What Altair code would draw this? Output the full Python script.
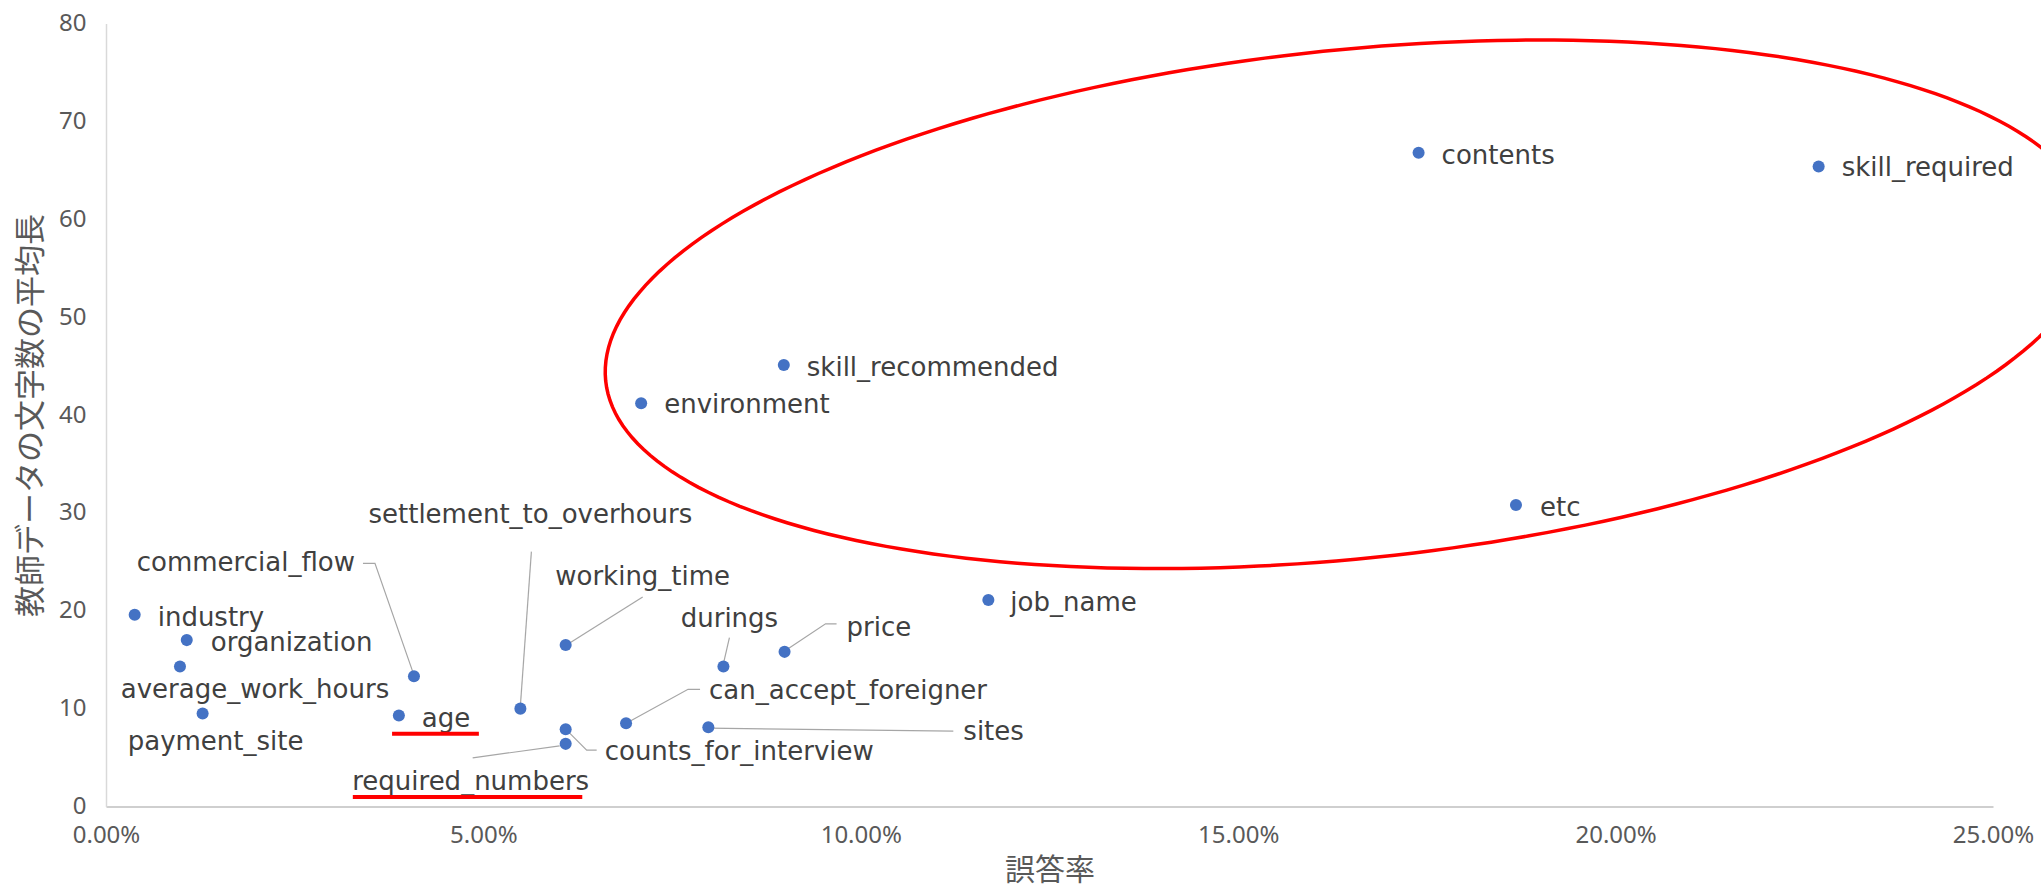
import math
import altair as alt
import pandas as pd

# ---------------- data ----------------
names = ["industry", "organization", "average_work_hours", "payment_site",
         "commercial_flow", "age", "settlement_to_overhours", "working_time",
         "counts_for_interview", "required_numbers", "durings", "price",
         "can_accept_foreigner", "sites", "job_name", "skill_recommended",
         "environment", "contents", "skill_required", "etc"]
error_rate = [0.0038, 0.0107, 0.0098, 0.0128, 0.0408, 0.0388, 0.0549, 0.0609,
              0.0609, 0.0609, 0.0818, 0.0899, 0.0689, 0.0798, 0.1169, 0.0898,
              0.0709, 0.1739, 0.2269, 0.1868]
avg_len = [19.6, 17.0, 14.3, 9.5, 13.3, 9.3, 10.0, 16.5, 7.9, 6.4, 14.3, 15.8,
           8.5, 8.1, 21.1, 45.1, 41.2, 66.8, 65.4, 30.8]

x_ticks = [0, 0.05, 0.10, 0.15, 0.20, 0.25]
y_ticks = [0, 10, 20, 30, 40, 50, 60, 70, 80]

# label placement (pixel offsets from the point) and alignment
label_align = ["left", "left", "center", "center", "right", "left", "center", "center",
               "left", "center", "center", "left", "left", "left", "left", "left",
               "left", "left", "left", "left"]
label_dx = [23, 24, 75, 13, -59, 23, 10, 77, 39, -95, 6, 62, 83, 255, 22, 23, 23, 23, 23, 24]
label_dy = [3, 3, 23, 28, -113, 4, -194, -68, 23, 38, -48, -24, -32, 5, 3, 3, 2, 3, 2, 3]

# leader lines (pixel offsets from the point)
leaders = {
    "commercial_flow": [(-51, -113), (-39, -113), (-1, -4)],
    "settlement_to_overhours": [(11, -157), (0, -3)],
    "working_time": [(77, -48), (4, -2)],
    "durings": [(6, -29), (0, -3)],
    "price": [(52, -28), (41, -28), (2, -2)],
    "can_accept_foreigner": [(74, -34), (62, -34), (2, -1)],
    "sites": [(245, 4), (0, 1)],
    "counts_for_interview": [(31, 21), (21, 21), (0, 0)],
    "required_numbers": [(-93, 14), (-6, 2)],
}

# hand-drawn red annotations (data units)
underline_x = [0.0379, 0.0327]
underline_x2 = [0.0494, 0.0631]
underline_y = [7.43, 0.96]
ell_center = (0.1647, 51.31)
ell_u = (0.09850, 7.822)
ell_v = (-0.003451, 25.845)

# ---------------- layout ----------------
W, H = 1887, 783
XMAX, YMAX = 0.25, 80
FX = W / XMAX
FY = H / YMAX

pts = pd.DataFrame({"name": names, "rate": error_rate, "len": avg_len})

lab = pd.DataFrame({
    "name": names,
    "align": label_align,
    "lx": [x + dx / FX for x, dx in zip(error_rate, label_dx)],
    "ly": [y - dy / FY for y, dy in zip(avg_len, label_dy)],
})

rows = []
for n, way in leaders.items():
    i = names.index(n)
    for k, (dx, dy) in enumerate(way):
        rows.append({"name": n, "k": k, "x": error_rate[i] + dx / FX, "y": avg_len[i] - dy / FY})
lead = pd.DataFrame(rows)

N = 240
ts = [2 * math.pi * k / N for k in range(N + 1)]
ell = pd.DataFrame({
    "k": list(range(N + 1)),
    "x": [ell_center[0] + ell_u[0] * math.cos(t) + ell_v[0] * math.sin(t) for t in ts],
    "y": [ell_center[1] + ell_u[1] * math.cos(t) + ell_v[1] * math.sin(t) for t in ts],
})

und = pd.DataFrame({"x": underline_x, "x2": underline_x2, "y": underline_y})

LABEL_FONT = "DejaVu Sans"
TICK_FONT = "Noto Sans"
JP_FONT = "Noto Sans CJK JP"

xscale = alt.Scale(domain=[0, XMAX], nice=False, zero=True)
yscale = alt.Scale(domain=[0, YMAX], nice=False)

xaxis = alt.Axis(format=".2%", values=x_ticks, ticks=False, grid=False, labelFlush=False,
                 domainColor="#BFBFBF", domainWidth=1.5,
                 labelFont=TICK_FONT, labelFontSize=24, labelColor="#595959", labelPadding=17,
                 title="誤答率", titleFont=JP_FONT, titleFontSize=30, titleFontWeight="normal",
                 titleColor="#595959", titleY=64, titleBaseline="middle")
yaxis = alt.Axis(values=y_ticks, ticks=False, grid=False, labelFlush=False,
                 domainColor="#D9D9D9", domainWidth=1.5,
                 labelFont=TICK_FONT, labelFontSize=24, labelColor="#595959", labelPadding=20,
                 title="教師データの文字数の平均長", titleFont=JP_FONT, titleFontSize=31,
                 titleFontWeight="normal", titleColor="#595959", titleX=-75, titleBaseline="middle")

base_pts = alt.Chart(pts).mark_point(filled=True, size=145, color="#4472C4", opacity=1).encode(
    x=alt.X("rate:Q", scale=xscale, axis=xaxis),
    y=alt.Y("len:Q", scale=yscale, axis=yaxis),
)

leader_lines = alt.Chart(lead).mark_line(color="#A6A6A6", strokeWidth=1.2).encode(
    x=alt.X("x:Q", scale=xscale), y=alt.Y("y:Q", scale=yscale),
    detail="name:N", order="k:Q")

texts = []
for a in ["left", "center", "right"]:
    texts.append(
        alt.Chart(lab).transform_filter(alt.datum.align == a).mark_text(
            align=a, baseline="middle", font=LABEL_FONT, fontSize=26, color="#404040"
        ).encode(x=alt.X("lx:Q", scale=xscale), y=alt.Y("ly:Q", scale=yscale), text="name:N")
    )

ellipse = alt.Chart(ell).mark_line(color="#FF0000", strokeWidth=3.5).encode(
    x=alt.X("x:Q", scale=xscale), y=alt.Y("y:Q", scale=yscale), order="k:Q")

underlines = alt.Chart(und).mark_rule(color="#FF0000", strokeWidth=4).encode(
    x=alt.X("x:Q", scale=xscale), x2="x2:Q", y=alt.Y("y:Q", scale=yscale))

chart = alt.layer(leader_lines, base_pts, *texts, ellipse, underlines).properties(
    width=W, height=H,
    autosize=alt.AutoSizeParams(type="none"),
    padding={"left": 106, "top": 23.5, "right": 48, "bottom": 81.5},
    background="white",
).configure_view(stroke=None)

chart.save("out.html", embed_options={"renderer": "svg", "actions": False})
